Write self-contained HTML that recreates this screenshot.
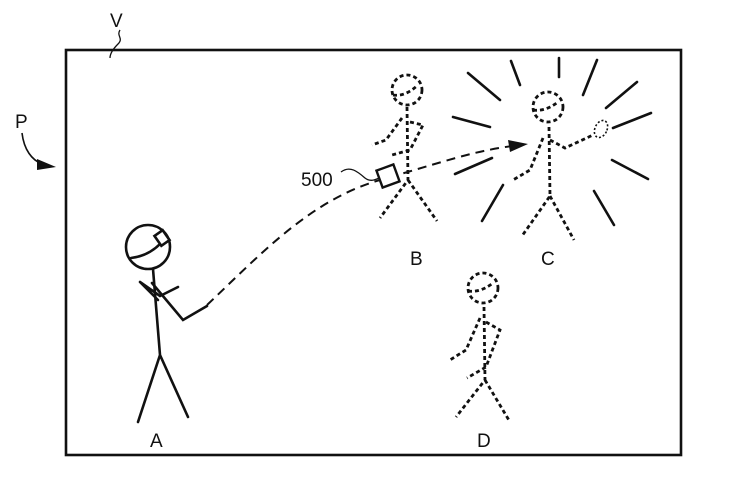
<!DOCTYPE html>
<html><head><style>html,body{margin:0;padding:0;background:#fff}svg{display:block}text{font-family:"Liberation Sans",sans-serif;fill:#111}</style></head>
<body>
<svg width="738" height="483" viewBox="0 0 738 483" xmlns="http://www.w3.org/2000/svg">
<rect x="66" y="50" width="615" height="405" fill="none" stroke="#111" stroke-width="2.6"/>
<text x="110" y="27" font-size="19">V</text>
<path d="M120,30 C116,36 124,38 118,44 C112,50 110,54 110,58" fill="none" stroke="#111" stroke-width="1.3"/>
<text x="15" y="128" font-size="19">P</text>
<path d="M22,133 C24,150 32,160 42,164" fill="none" stroke="#111" stroke-width="1.6"/>
<polygon points="37,159 56,167 37,170" fill="#111"/>
<g stroke="#111" stroke-width="2.6" fill="none" stroke-linecap="round">
<circle cx="148" cy="247" r="22"/>
<path d="M131,258 Q148,256 160,244"/>
<rect x="157" y="232" width="10" height="12" transform="rotate(-35 162 238)" fill="#fff"/>
<path d="M153,269 L160,355 L138,422 M160,355 L188,417"/>
<path d="M152,283 L183,320 L207,306"/>
<path d="M140,282 L160,296 L178,287 M140,282 L158,300"/>
</g>
<path d="M207,305 C260,255 310,200 380,180 S470,152 512,146" fill="none" stroke="#111" stroke-width="2" stroke-dasharray="9,6"/>
<polygon points="508,140 528,144 510,152" fill="#111"/>
<g stroke="#111" stroke-width="2.8" fill="none" stroke-dasharray="4,3">
<circle cx="407" cy="90" r="15"/>
<path d="M393,95 Q405,97 418,85"/>
<path d="M407,107 L408,180 L380,218 M408,180 L437,221"/>
<path d="M402,118 L386,140 L372,145"/>
<path d="M410,122 L423,125 L410,150 L392,155"/>
<circle cx="548" cy="107" r="15"/>
<path d="M533,110 Q545,112 558,102"/>
<path d="M549,127 L550,196 L522,236 M550,196 L574,240"/>
<path d="M550,140 L565,148 L593,135"/>
<path d="M543,138 L530,170 L513,180"/>
<circle cx="483" cy="288" r="15"/>
<path d="M468,291 Q480,293 493,283"/>
<path d="M484,307 L485,380 L456,417 M485,380 L510,422"/>
<path d="M480,318 L466,350 L450,360"/>
<path d="M486,322 L500,330 L486,367 L467,378"/>
</g>
<ellipse cx="601" cy="129" rx="6" ry="9" transform="rotate(25 601 129)" fill="none" stroke="#111" stroke-width="1.6" stroke-dasharray="2,2"/>
<g stroke="#111" stroke-width="2.6" stroke-linecap="round">
<path d="M511,61 L520,85 M559,58 L559,77 M597,60 L583,95 M468,73 L500,100 M637,82 L606,108 M453,117 L490,127 M651,113 L613,128 M455,174 L492,158 M612,160 L648,179 M482,221 L503,185 M594,191 L614,225"/>
</g>
<rect x="379" y="167" width="18" height="18" transform="rotate(-20 388 176)" fill="#fff" stroke="#111" stroke-width="2.4"/>
<text x="301" y="186" font-size="19">500</text>
<path d="M341,172 C350,165 358,172 365,178 C370,182 375,180 379,178" fill="none" stroke="#111" stroke-width="1.3"/>
<text x="150" y="447" font-size="19">A</text>
<text x="410" y="265" font-size="19">B</text>
<text x="541" y="265" font-size="19">C</text>
<text x="477" y="447" font-size="19">D</text>
</svg>
</body></html>
